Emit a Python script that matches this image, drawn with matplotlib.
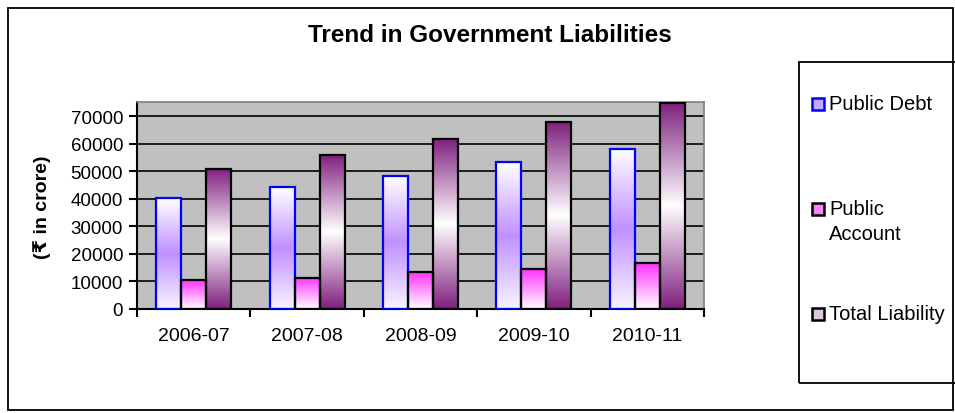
import numpy as np
import matplotlib.pyplot as plt
from matplotlib.colors import LinearSegmentedColormap
from matplotlib.patches import Rectangle

plt.rcParams["font.family"] = ["Liberation Sans", "DejaVu Sans"]

years = ["2006-07", "2007-08", "2008-09", "2009-10", "2010-11"]
public_debt = [40300, 44200, 48200, 53300, 58200]
public_account = [10500, 11400, 13400, 14500, 16600]
total_liability = [51000, 56000, 61800, 68100, 74900]

series = [
    ("Public Debt", public_debt, ["#ffffff", "#c090ff", "#f8f4ff"], "#0000ff"),
    ("Public Account", public_account, ["#ff33ff", "#ffffff"], "#000000"),
    ("Total Liability", total_liability, ["#7f1f7f", "#ffffff", "#7f1f7f"], "#000000"),
]

W, H = 955, 414
fig = plt.figure(figsize=(W / 100, H / 100), dpi=100)


def fx(px):
    return px / W


def fy(py):
    return 1 - py / H


ax = fig.add_axes([fx(137), fy(310), fx(704) - fx(137), fy(103) - fy(310)])
ax.set_facecolor("#c0c0c0")
ax.set_yticks(np.arange(0, 70001, 10000))
ax.yaxis.grid(True, color="black", linewidth=1.2)
ax.set_axisbelow(True)

x = np.arange(len(years))
bw = 0.22
grad = np.linspace(0, 1, 256).reshape(-1, 1)
for i, (name, vals, cols, edge) in enumerate(series):
    cmap = LinearSegmentedColormap.from_list(name, cols)
    bars = ax.bar(x + (i - 1) * bw, vals, bw, facecolor="none",
                  edgecolor=edge, linewidth=1.6, zorder=3)
    for b in bars:
        bx, by = b.get_x(), b.get_y()
        im = ax.imshow(grad, cmap=cmap, aspect="auto", origin="upper",
                       extent=[bx, bx + b.get_width(), by, by + b.get_height()],
                       zorder=2)
        im.set_clip_path(b)

ax.set_xlim(-0.5, len(years) - 0.5)
ax.set_ylim(0, 75200)
ax.set_xticks(x)
ax.set_xticklabels(years, fontsize=14)
ax.set_xticks(np.arange(-0.5, len(years)), minor=True)
ax.tick_params(axis="x", which="major", length=0, pad=13)
ax.tick_params(axis="x", which="minor", length=6, width=1.5, direction="out")
ax.tick_params(axis="y", length=6, width=1.5, labelsize=13.5, pad=4)
for s in ["top", "right"]:
    ax.spines[s].set_color("#808080")
    ax.spines[s].set_linewidth(1.2)
for s in ["left", "bottom"]:
    ax.spines[s].set_color("black")
    ax.spines[s].set_linewidth(1.5)

fig.text(fx(490), fy(36), "Trend in Government Liabilities", ha="center",
         va="center", fontsize=17.5, fontweight="bold")
fig.text(fx(42), fy(207), "(₹ in crore)", rotation=90, ha="center",
         va="center", fontsize=14, fontweight="bold")

# outer chart frame and legend box
fig.patches.append(Rectangle((fx(8), fy(411)), fx(953) - fx(8), fy(9) - fy(411),
                             transform=fig.transFigure, fill=False,
                             edgecolor="black", linewidth=1.3))
fig.patches.append(Rectangle((fx(799), fy(384)), fx(960) - fx(799), fy(63) - fy(384),
                             transform=fig.transFigure, fill=False,
                             edgecolor="black", linewidth=1.3))

legend_items = [
    (["Public Debt"], 105, "#c8a8ff", "#0000ff"),
    (["Public", "Account"], 210, "#ff80ff", "#000000"),
    (["Total Liability"], 315, "#d8c8d8", "#000000"),
]
for lines, ly, fc, ec in legend_items:
    fig.patches.append(Rectangle((fx(812), fy(ly + 6)), fx(12), 12 / H,
                                 transform=fig.transFigure, facecolor=fc,
                                 edgecolor=ec, linewidth=1.8))
    for j, t in enumerate(lines):
        fig.text(fx(829), fy(ly + j * 25), t, ha="left", va="center", fontsize=14.5)

fig.savefig("out.png", dpi=100)
